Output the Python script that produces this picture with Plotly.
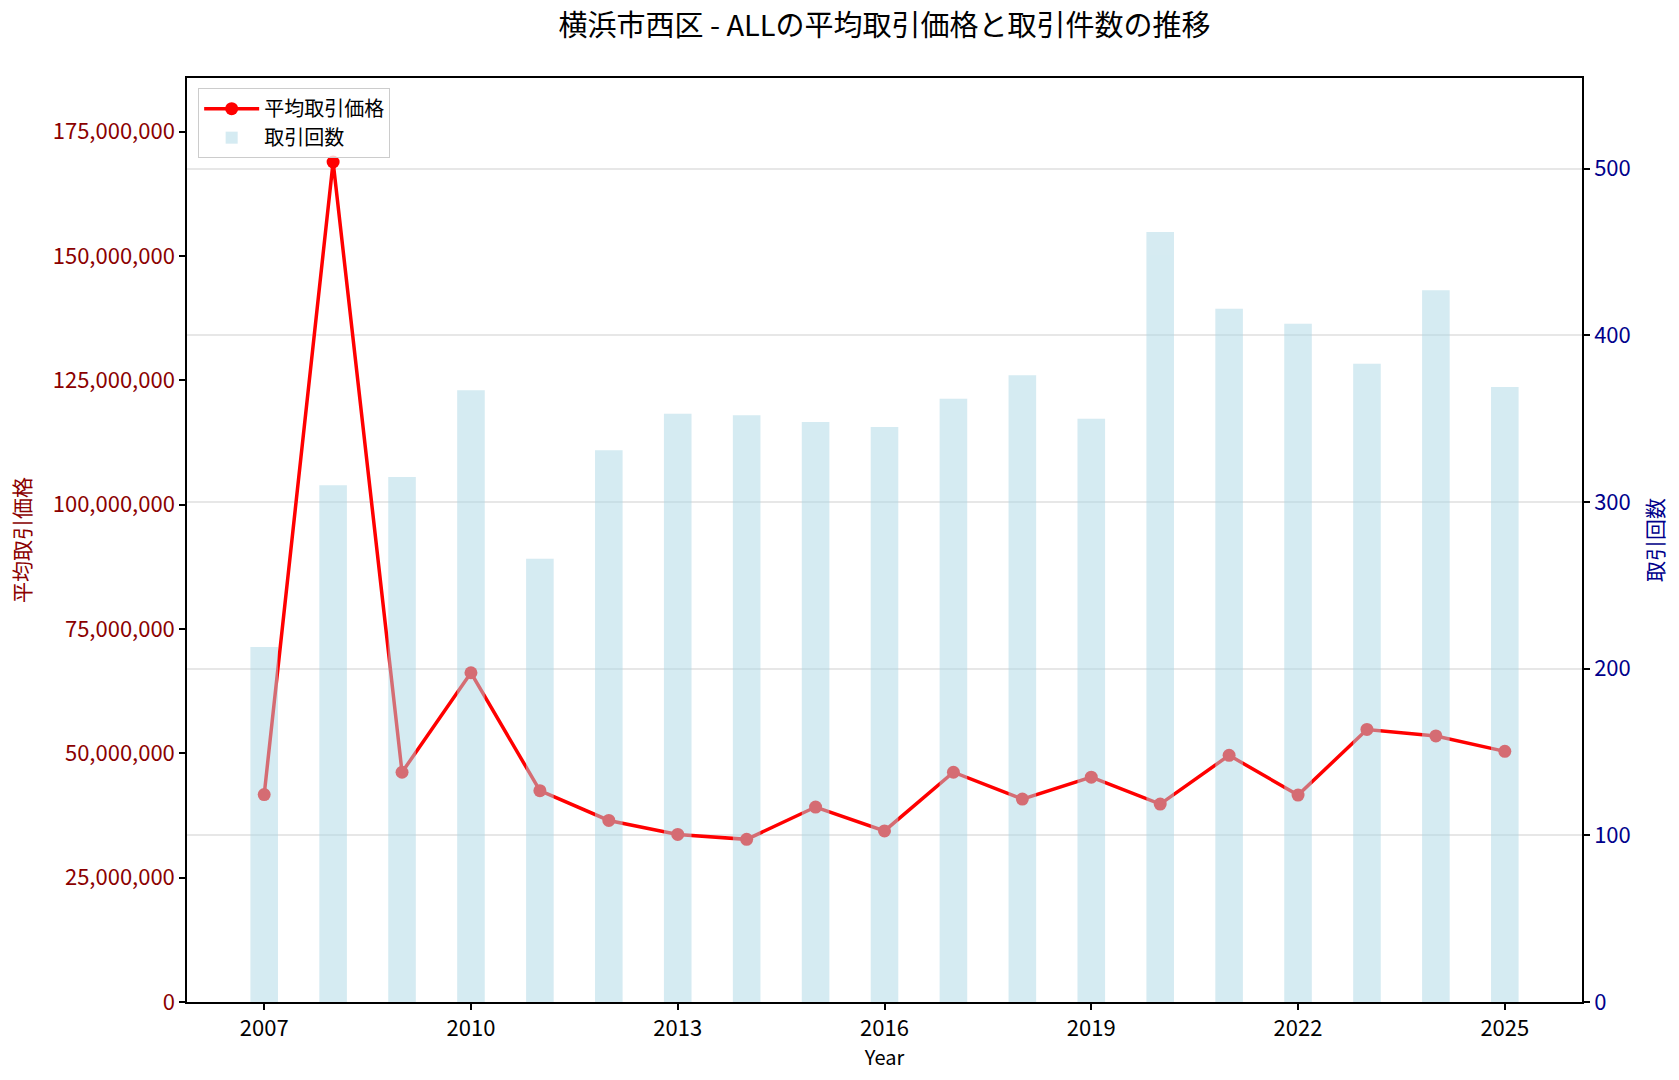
import plotly.graph_objects as go

years = list(range(2007, 2026))
avg_price = [41.7e6, 168.9e6, 46.2e6, 66.2e6, 42.5e6, 36.5e6, 33.7e6, 32.7e6, 39.2e6, 34.4e6,
             46.2e6, 40.8e6, 45.2e6, 39.8e6, 49.6e6, 41.6e6, 54.8e6, 53.5e6, 50.4e6]
counts = [213, 310, 315, 367, 266, 331, 353, 352, 348, 345,
          362, 376, 350, 462, 416, 407, 383, 427, 369]

title_text = "横浜市西区 - ALLの平均取引価格と取引件数の推移"
price_label = "平均取引価格"
count_label = "取引回数"
x_label = "Year"
x_ticks = [2007, 2010, 2013, 2016, 2019, 2022, 2025]
price_ticks = [0, 25e6, 50e6, 75e6, 100e6, 125e6, 150e6, 175e6]
count_ticks = [0, 100, 200, 300, 400, 500]

FONT = "Noto Sans CJK JP"
DARKRED = "#8b0000"
DARKBLUE = "#00008b"

fig = go.Figure()
fig.add_trace(go.Scatter(
    x=years, y=avg_price, name=price_label, mode="lines+markers",
    line=dict(color="red", width=3.5), marker=dict(color="red", size=13),
    yaxis="y"))
fig.add_trace(go.Bar(
    x=years, y=counts, name=count_label, width=0.4,
    marker=dict(color="lightblue", line=dict(width=0)), opacity=0.5,
    yaxis="y2"))

pmax = max(avg_price) * 1.1
cmax = max(counts) * 1.2
bw = 0.4
span = (years[-1] - years[0]) + bw
xr = [years[0] - bw / 2 - 0.05 * span, years[-1] + bw / 2 + 0.05 * span]

fig.update_layout(
    width=1679, height=1080,
    margin=dict(l=187, r=97, t=78, b=78),
    paper_bgcolor="white", plot_bgcolor="white",
    font=dict(family=FONT, size=20, color="black"),
    showlegend=True,
    title=dict(text=title_text, x=0.5, xanchor="center", xref="paper",
               y=1 - 26 / 1080, yref="container", yanchor="middle",
               font=dict(family=FONT, size=29, color="black")),
    legend=dict(x=0.008, y=0.989, xanchor="left", yanchor="top",
                bgcolor="rgba(255,255,255,0.8)", bordercolor="#cccccc", borderwidth=1,
                itemwidth=55, font=dict(family=FONT, size=20)),
    xaxis=dict(range=xr, tickvals=x_ticks, ticks="outside", ticklen=6, tickwidth=1.5,
               tickcolor="black", showline=True, linecolor="black", linewidth=1.5,
               mirror=True, showgrid=False, zeroline=False,
               title=dict(text=x_label, standoff=5, font=dict(size=20)),
               tickfont=dict(size=22)),
    yaxis=dict(range=[0, pmax], tickvals=price_ticks, tickformat=",d",
               ticks="outside", ticklen=6, tickwidth=1.5, tickcolor="black",
               showline=True, linecolor="black", linewidth=1.5, showgrid=False,
               zeroline=False, tickfont=dict(color=DARKRED, size=22),
               title=dict(text=price_label, font=dict(color=DARKRED, size=21), standoff=16)),
    yaxis2=dict(range=[0, cmax], tickvals=count_ticks, overlaying="y", side="right",
                ticks="outside", ticklen=6, tickwidth=1.5, tickcolor="black",
                showline=True, linecolor="black", linewidth=1.5,
                showgrid=True, gridcolor="rgba(176,176,176,0.3)", gridwidth=1.5,
                zeroline=False, tickfont=dict(color=DARKBLUE, size=22),
                title=dict(text=count_label, font=dict(color=DARKBLUE, size=21), standoff=19)),
)

fig.write_html("out.html")
